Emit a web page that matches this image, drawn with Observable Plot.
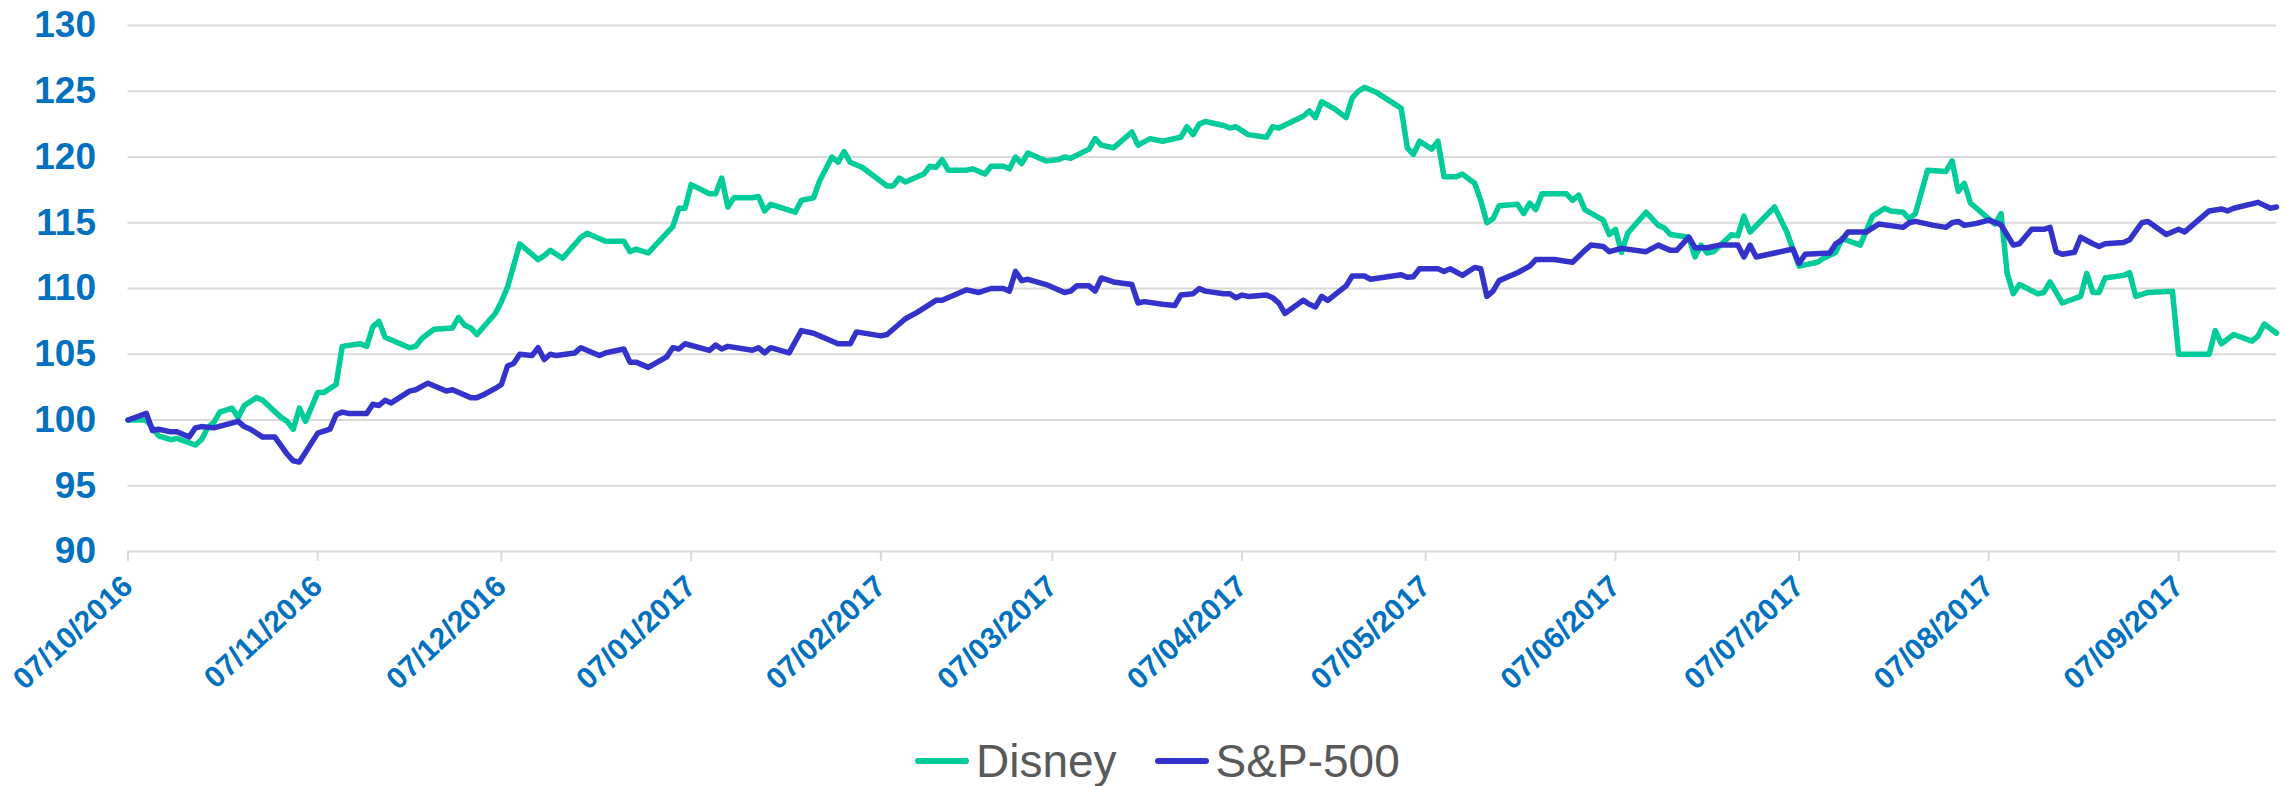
<!DOCTYPE html>
<html>
<head>
<meta charset="utf-8">
<script src="https://cdn.jsdelivr.net/npm/d3@7"></script>
<script src="https://cdn.jsdelivr.net/npm/@observablehq/plot@0.6"></script>
<style>
  html, body { margin: 0; padding: 0; background: #fff; }
  body { font-family: "Liberation Sans", Arial, sans-serif; width: 2285px; height: 786px; overflow: hidden; }
  #legend { display: flex; align-items: center; height: 56px; padding-top: 3px; padding-left: 915px; font-size: 46px; color: #595959; white-space: nowrap; }
  #legend .item { display: flex; align-items: center; margin-right: 38px; }
  #legend .sw { width: 54px; height: 6px; border-radius: 3px; margin-right: 7px; }
</style>
</head>
<body>
<div id="chart"></div>
<div id="legend"></div>
<script>
// ---- data ----
const seriesNames = ["Disney", "S&P-500"];
const seriesColors = ["#00CC99", "#3333CC"];

const disneyDates = [
"2016-10-07","2016-10-10","2016-10-11","2016-10-12","2016-10-14","2016-10-15","2016-10-18","2016-10-19","2016-10-20","2016-10-21",
"2016-10-22","2016-10-24","2016-10-25","2016-10-26","2016-10-28","2016-10-29","2016-11-01","2016-11-02","2016-11-03","2016-11-04",
"2016-11-05","2016-11-07","2016-11-08","2016-11-10","2016-11-11","2016-11-14","2016-11-15","2016-11-16","2016-11-17","2016-11-18",
"2016-11-22","2016-11-23","2016-11-24","2016-11-26","2016-11-29","2016-11-30","2016-12-01","2016-12-02","2016-12-03","2016-12-06",
"2016-12-07","2016-12-08","2016-12-10","2016-12-13","2016-12-14","2016-12-15","2016-12-17","2016-12-20","2016-12-21","2016-12-24",
"2016-12-27","2016-12-28","2016-12-29","2016-12-31","2017-01-04","2017-01-05","2017-01-06","2017-01-07","2017-01-10","2017-01-11",
"2017-01-12","2017-01-13","2017-01-14","2017-01-17","2017-01-18","2017-01-19","2017-01-20","2017-01-24","2017-01-25","2017-01-27",
"2017-01-28","2017-01-30","2017-01-31","2017-02-01","2017-02-02","2017-02-04","2017-02-06","2017-02-08","2017-02-09","2017-02-10",
"2017-02-11","2017-02-14","2017-02-15","2017-02-16","2017-02-17","2017-02-18","2017-02-21","2017-02-22","2017-02-24","2017-02-25",
"2017-02-27","2017-02-28","2017-03-01","2017-03-02","2017-03-03","2017-03-06","2017-03-08","2017-03-09","2017-03-10","2017-03-13",
"2017-03-14","2017-03-15","2017-03-17","2017-03-20","2017-03-21","2017-03-23","2017-03-25","2017-03-28","2017-03-29","2017-03-30",
"2017-03-31","2017-04-01","2017-04-04","2017-04-05","2017-04-06","2017-04-08","2017-04-11","2017-04-12","2017-04-13","2017-04-17",
"2017-04-18","2017-04-19","2017-04-20","2017-04-22","2017-04-24","2017-04-25","2017-04-26","2017-04-27","2017-04-29","2017-05-02",
"2017-05-03","2017-05-04","2017-05-05","2017-05-06","2017-05-08","2017-05-09","2017-05-10","2017-05-12","2017-05-13","2017-05-15",
"2017-05-16","2017-05-17","2017-05-18","2017-05-19","2017-05-22","2017-05-23","2017-05-24","2017-05-25","2017-05-26","2017-05-30",
"2017-05-31","2017-06-01","2017-06-02","2017-06-05","2017-06-06","2017-06-07","2017-06-08","2017-06-09","2017-06-12","2017-06-14",
"2017-06-15","2017-06-16","2017-06-19","2017-06-20","2017-06-21","2017-06-22","2017-06-23","2017-06-26","2017-06-27","2017-06-28",
"2017-06-29","2017-07-03","2017-07-05","2017-07-07","2017-07-10","2017-07-11","2017-07-13","2017-07-14","2017-07-17","2017-07-19",
"2017-07-21","2017-07-22","2017-07-24","2017-07-25","2017-07-26","2017-07-28","2017-07-31","2017-08-01","2017-08-02","2017-08-03",
"2017-08-04","2017-08-07","2017-08-08","2017-08-09","2017-08-10","2017-08-11","2017-08-12","2017-08-15","2017-08-16","2017-08-17",
"2017-08-19","2017-08-22","2017-08-23","2017-08-24","2017-08-25","2017-08-26","2017-08-29","2017-08-30","2017-08-31","2017-09-02",
"2017-09-06","2017-09-07","2017-09-12","2017-09-13","2017-09-14","2017-09-16","2017-09-19","2017-09-20","2017-09-21","2017-09-23"
];
const disneyValues = [
100,100,99.4,98.8,98.5,98.6,98.1,98.5,99.4,99.8,
100.6,100.9,100.2,101.1,101.7,101.5,100.2,99.9,99.3,100.9,
99.9,102.1,102.1,102.7,105.6,105.8,105.6,107.1,107.5,106.3,
105.5,105.6,106.2,106.9,107.0,107.8,107.2,107.0,106.5,108.1,
109.0,110.1,113.4,112.2,112.5,112.9,112.3,113.9,114.2,113.6,
113.6,112.8,113.0,112.7,114.7,116.1,116.1,117.9,117.2,117.2,
118.4,116.2,116.9,116.9,117.0,115.9,116.4,115.8,116.7,116.9,
118.2,120.0,119.6,120.4,119.6,119.2,118.5,117.8,117.8,118.4,
118.1,118.7,119.3,119.2,119.8,119.0,119.0,119.1,118.7,119.3,
119.3,119.1,120.0,119.5,120.3,119.7,119.8,120.0,119.9,120.6,
121.4,120.9,120.7,121.9,120.9,121.4,121.2,121.5,122.3,121.7,
122.5,122.7,122.4,122.2,122.3,121.7,121.5,122.3,122.2,123.1,
123.5,123.0,124.2,123.7,123.0,124.5,125.0,125.3,124.9,124.0,
123.7,120.7,120.2,121.2,120.6,121.2,118.5,118.5,118.7,118.0,
116.7,115.0,115.3,116.3,116.4,115.7,116.5,116.0,117.2,117.2,
116.7,117.1,116.0,115.2,114.1,114.5,112.75,114.2,115.8,114.8,
114.6,114.1,113.9,112.4,113.3,112.7,112.8,114.1,114.0,115.5,
114.3,116.2,114.3,111.7,112.0,112.3,112.75,113.8,113.3,115.5,
116.1,115.9,115.8,115.3,115.7,119.0,118.9,119.7,117.4,118.0,
116.5,115.3,114.9,115.7,111.15,109.6,110.3,109.6,109.7,110.5,
108.9,109.4,111.15,109.7,109.7,110.8,111.0,111.2,109.4,109.7,
109.8,105.0,105.0,106.8,105.8,106.5,106.0,106.4,107.3,106.6
];

const spDates = [
"2016-10-07","2016-10-10","2016-10-11","2016-10-12","2016-10-14","2016-10-15","2016-10-17","2016-10-18","2016-10-19","2016-10-21",
"2016-10-25","2016-10-26","2016-10-27","2016-10-29","2016-10-31","2016-11-02","2016-11-03","2016-11-04","2016-11-07","2016-11-09",
"2016-11-10","2016-11-11","2016-11-12","2016-11-15","2016-11-16","2016-11-17","2016-11-18","2016-11-19","2016-11-22","2016-11-23",
"2016-11-25","2016-11-28","2016-11-29","2016-12-02","2016-12-03","2016-12-04","2016-12-06","2016-12-07","2016-12-08","2016-12-09",
"2016-12-10","2016-12-12","2016-12-13","2016-12-14","2016-12-15","2016-12-16","2016-12-19","2016-12-20","2016-12-23","2016-12-24",
"2016-12-27","2016-12-28","2016-12-29","2016-12-31","2017-01-03","2017-01-04","2017-01-05","2017-01-06","2017-01-10","2017-01-11",
"2017-01-12","2017-01-13","2017-01-17","2017-01-18","2017-01-19","2017-01-20","2017-01-23","2017-01-25","2017-01-27","2017-01-31",
"2017-02-02","2017-02-03","2017-02-07","2017-02-08","2017-02-10","2017-02-11","2017-02-13","2017-02-16","2017-02-17","2017-02-21",
"2017-02-23","2017-02-25","2017-02-27","2017-02-28","2017-03-01","2017-03-02","2017-03-03","2017-03-06","2017-03-09","2017-03-10",
"2017-03-11","2017-03-13","2017-03-14","2017-03-15","2017-03-17","2017-03-20","2017-03-21","2017-03-22","2017-03-25","2017-03-27",
"2017-03-28","2017-03-30","2017-03-31","2017-04-01","2017-04-04","2017-04-05","2017-04-06","2017-04-07","2017-04-08","2017-04-11",
"2017-04-12","2017-04-13","2017-04-14","2017-04-17","2017-04-18","2017-04-19","2017-04-20","2017-04-21","2017-04-24","2017-04-25",
"2017-04-27","2017-04-28","2017-05-03","2017-05-04","2017-05-05","2017-05-06","2017-05-09","2017-05-10","2017-05-11","2017-05-13",
"2017-05-15","2017-05-16","2017-05-17","2017-05-18","2017-05-19","2017-05-22","2017-05-24","2017-05-25","2017-05-28","2017-05-31",
"2017-06-02","2017-06-03","2017-06-05","2017-06-06","2017-06-08","2017-06-12","2017-06-14","2017-06-16","2017-06-17","2017-06-19",
"2017-06-20","2017-06-22","2017-06-24","2017-06-27","2017-06-28","2017-06-29","2017-06-30","2017-07-06","2017-07-07","2017-07-08",
"2017-07-12","2017-07-13","2017-07-14","2017-07-15","2017-07-18","2017-07-20","2017-07-24","2017-07-25","2017-07-26","2017-07-29",
"2017-07-31","2017-08-01","2017-08-02","2017-08-03","2017-08-05","2017-08-07","2017-08-09","2017-08-11","2017-08-12","2017-08-14",
"2017-08-16","2017-08-17","2017-08-18","2017-08-19","2017-08-21","2017-08-22","2017-08-24","2017-08-25","2017-08-26","2017-08-29",
"2017-08-30","2017-09-01","2017-09-02","2017-09-05","2017-09-07","2017-09-08","2017-09-12","2017-09-14","2017-09-15","2017-09-16",
"2017-09-20","2017-09-22","2017-09-23"
];
const spValues = [
100,100.5,99.2,99.3,99.1,99.1,98.7,99.4,99.5,99.4,
99.9,99.5,99.3,98.7,98.7,97.4,96.9,96.8,99.0,99.3,
100.4,100.6,100.5,100.5,101.2,101.1,101.5,101.3,102.2,102.3,
102.8,102.2,102.3,101.7,101.7,101.9,102.4,102.7,104.1,104.3,
105.0,104.9,105.5,104.6,105.0,104.9,105.1,105.5,104.9,105.1,
105.4,104.4,104.4,104.0,104.8,105.5,105.4,105.8,105.3,105.7,
105.4,105.6,105.3,105.5,105.1,105.5,105.1,106.8,106.6,105.8,
105.8,106.7,106.4,106.5,107.3,107.7,108.2,109.1,109.1,109.9,
109.7,110.0,110.0,109.8,111.3,110.6,110.7,110.3,109.7,109.8,
110.2,110.2,109.8,110.8,110.5,110.3,108.9,109.0,108.8,108.7,
109.5,109.6,110.0,109.8,109.6,109.6,109.3,109.5,109.4,109.5,
109.3,108.9,108.1,109.1,108.8,108.6,109.4,109.1,110.2,110.95,
110.95,110.7,111.05,110.85,110.9,111.5,111.5,111.3,111.5,111.0,
111.6,111.5,109.4,109.8,110.6,111.2,111.7,112.2,112.2,112.0,
112.9,113.3,113.2,112.8,113.05,112.8,113.3,112.9,112.9,113.9,
113.1,113.1,113.3,113.3,112.4,113.3,112.4,113.0,111.9,112.6,
112.7,113.4,113.7,114.3,114.3,114.9,114.65,115.0,115.1,114.8,
114.65,115.0,115.1,114.8,114.95,115.2,114.85,113.3,113.4,114.5,
114.5,114.65,112.8,112.6,112.75,113.9,113.4,113.2,113.4,113.5,
113.7,115.0,115.1,114.1,114.5,114.3,115.9,116.05,115.9,116.1,
116.55,116.1,116.2
];

const yTicks = [90, 95, 100, 105, 110, 115, 120, 125, 130];
const xTickLabels = ["07/10/2016","07/11/2016","07/12/2016","07/01/2017","07/02/2017","07/03/2017",
  "07/04/2017","07/05/2017","07/06/2017","07/07/2017","07/08/2017","07/09/2017"];
const xDomain = ["2016-10-07", "2017-09-23"];

// ---- build table ----
const parseTick = d3.utcParse("%d/%m/%Y");
const fmtTick = d3.utcFormat("%d/%m/%Y");
const xTickDates = xTickLabels.map(parseTick);
const rows = [];
disneyDates.forEach((d, i) => rows.push({date: new Date(d), value: disneyValues[i], series: seriesNames[0]}));
spDates.forEach((d, i) => rows.push({date: new Date(d), value: spValues[i], series: seriesNames[1]}));

const font = "'Liberation Sans', Arial, sans-serif";
const blue = "#0070C0";

const chart = Plot.plot({
  width: 2285,
  height: 730,
  marginLeft: 127.5,
  marginRight: 9,
  marginTop: 25,
  marginBottom: 179,
  style: {fontFamily: font, background: "#fff", overflow: "visible"},
  x: {type: "utc", domain: xDomain.map(d => new Date(d))},
  y: {domain: [90, 130]},
  color: {domain: seriesNames, range: seriesColors},
  marks: [
    Plot.gridY(yTicks, {stroke: "#d9d9d9", strokeOpacity: 1, strokeWidth: 2}),
    Plot.axisX({ticks: xTickDates, tickSize: 10, stroke: "#d9d9d9", strokeWidth: 2, strokeOpacity: 1, tickFormat: () => "", label: null}),
    Plot.axisX({ticks: xTickDates, tickSize: 0, tickPadding: 30, tickRotate: -43, tickFormat: fmtTick,
      fill: blue, fontSize: 30, fontWeight: "bold", label: null}),
    Plot.axisY({ticks: yTicks, tickSize: 0, tickPadding: 32, fill: blue, fontSize: 37, fontWeight: "bold", label: null}),
    Plot.line(rows, {x: "date", y: "value", z: "series", stroke: "series", strokeWidth: 5.5,
      strokeLinejoin: "round", strokeLinecap: "round"})
  ]
});
document.getElementById("chart").appendChild(chart);

// ---- legend ----
const legend = document.getElementById("legend");
seriesNames.forEach((name, i) => {
  const item = document.createElement("div");
  item.className = "item";
  const sw = document.createElement("span");
  sw.className = "sw";
  sw.style.background = seriesColors[i];
  const label = document.createElement("span");
  label.textContent = name;
  item.appendChild(sw);
  item.appendChild(label);
  legend.appendChild(item);
});
</script>
</body>
</html>
